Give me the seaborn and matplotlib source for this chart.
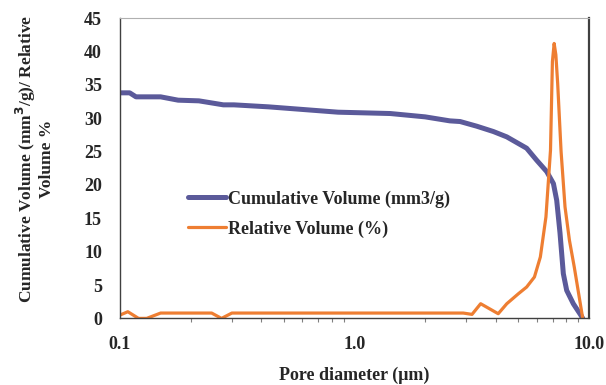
import numpy as np
import pandas as pd
import matplotlib
matplotlib.use("Agg")
import matplotlib.pyplot as plt
import seaborn as sns

# pore diameter (um) and cumulative volume (mm3/g)
cum_x = [0.100, 0.110, 0.117, 0.149, 0.177, 0.217, 0.276, 0.306, 0.430,
         0.718, 0.851, 1.42, 2.00, 2.55, 2.82, 3.32, 3.91, 4.46, 5.42,
         5.98, 6.60, 7.05, 7.28, 7.52, 7.77, 8.03, 8.57, 9.22, 9.40]
cum_y = [33.8, 33.8, 33.2, 33.2, 32.7, 32.6, 32.0, 32.0, 31.7,
         31.1, 30.9, 30.7, 30.2, 29.6, 29.5, 28.8, 28.0, 27.2, 25.5,
         23.7, 22.0, 20.2, 17.7, 12.8, 6.7, 4.2, 2.2, 0.5, 0.0]

# pore diameter (um) and relative volume (%)
rel_x = [0.100, 0.108, 0.120, 0.130, 0.149, 0.230, 0.246, 0.271, 0.300,
         1.00, 2.91, 3.17, 3.45, 4.10, 4.46, 5.00, 5.42, 5.85, 6.20,
         6.55, 6.85, 6.98, 7.10, 7.22, 7.35, 7.60, 7.90, 8.25, 8.65, 9.40]
rel_y = [0.5, 1.0, 0.0, 0.0, 0.8, 0.8, 0.8, 0.0, 0.8,
         0.8, 0.8, 0.6, 2.2, 0.7, 2.2, 3.7, 4.7, 6.2, 9.2,
         15.2, 25.2, 38.5, 41.2, 39.5, 35.2, 25.0, 16.7, 11.7, 7.7, 0.0]

x_ticks = [0.1, 1.0, 10.0]
x_labels = ["0.1", "1.0", "10.0"]

cum_name = "Cumulative Volume (mm3/g)"
rel_name = "Relative Volume (%)"

df = pd.concat([
    pd.DataFrame({"d": cum_x, "v": cum_y, "series": cum_name}),
    pd.DataFrame({"d": rel_x, "v": rel_y, "series": rel_name}),
])

sns.set_style("white")
plt.rcParams["font.family"] = ["Liberation Serif", "DejaVu Serif"]
plt.rcParams["font.weight"] = "bold"

fig = plt.figure(figsize=(6.06, 3.85), dpi=100)
ax = fig.add_axes([0.198, 0.173, 0.774, 0.780])

purple = "#5B5A9A"
orange = "#EE7E32"
sns.lineplot(data=df[df.series == cum_name], x="d", y="v", color=purple,
             lw=3.6, ax=ax, label=cum_name, sort=False)
sns.lineplot(data=df[df.series == rel_name], x="d", y="v", color=orange,
             lw=2.3, ax=ax, label=rel_name, sort=False)

ax.set_xscale("log")
ax.set_xlim(0.1, 10)
ax.set_ylim(0, 45)
ax.set_yticks(np.arange(0, 46, 5))
ax.set_xticks(x_ticks)
ax.set_xticklabels(x_labels)
ax.xaxis.set_minor_locator(matplotlib.ticker.LogLocator(subs=np.arange(2, 10)))
ax.xaxis.set_minor_formatter(matplotlib.ticker.NullFormatter())

ax.tick_params(axis="both", which="major", direction="out", length=5,
               width=0.8, color="#404040", labelsize=13, pad=4)
ax.tick_params(axis="x", which="minor", direction="out", length=3,
               width=0.8, color="#808080", bottom=True)
ax.tick_params(axis="x", which="major", pad=8)
ax.tick_params(axis="y", which="major", pad=8)
for lab in ax.get_xticklabels() + ax.get_yticklabels():
    lab.set_fontweight("bold")

for side in ["left", "bottom", "right"]:
    ax.spines[side].set_color("#404040")
    ax.spines[side].set_linewidth(1.0)
ax.spines["right"].set_linewidth(1.6)
ax.spines["top"].set_color("#B0B0B0")
ax.spines["top"].set_linewidth(0.8)

ax.set_xlabel("Pore diameter (\u03bcm)", fontsize=13, fontweight="bold",
              va="center")
ax.xaxis.set_label_coords(0.5, -0.19)
ax.set_ylabel("Cumulative Volume (mm$^{\\mathbf{3}}$/g)/ Relative\nVolume %",
              fontsize=12.5, fontweight="bold", linespacing=1.05, va="center")
ax.yaxis.set_label_coords(-0.183, 0.53)

leg = ax.legend(loc="upper left", bbox_to_anchor=(0.11, 0.48), frameon=False,
                fontsize=13, handlelength=2.1, handletextpad=0.15,
                labelspacing=0.7)
for t in leg.get_texts():
    t.set_fontweight("bold")

fig.savefig("out.png", dpi=100)
